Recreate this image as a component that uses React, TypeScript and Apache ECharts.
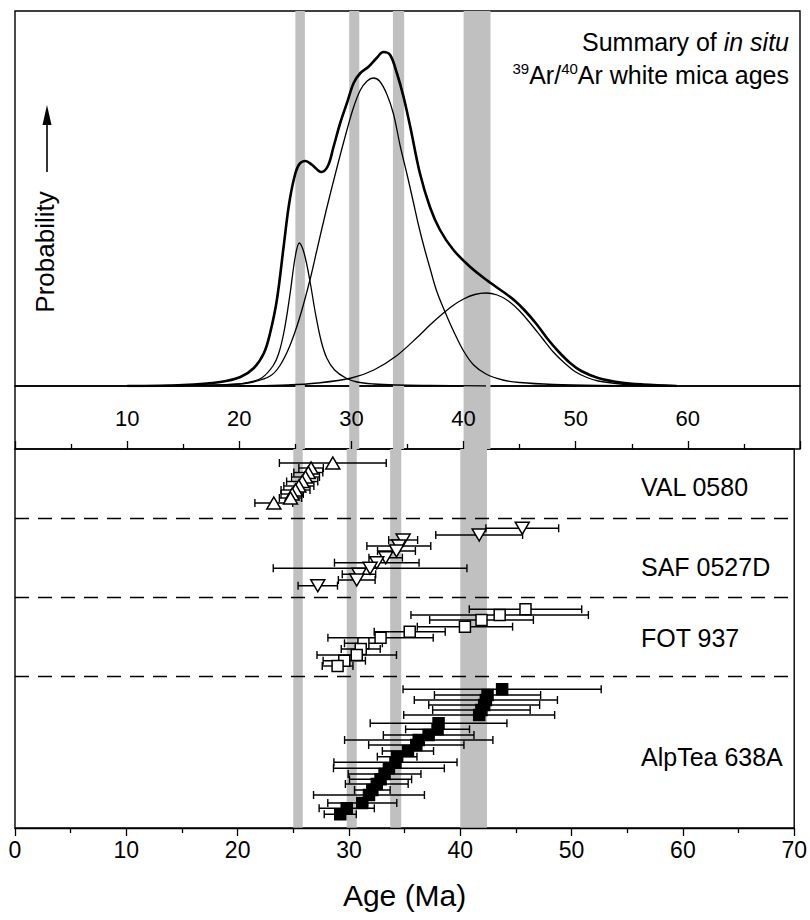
import React, { useEffect, useRef } from "react";
import * as echarts from "echarts";

// ---------- data ----------
const ageMin = 0;
const ageMax = 70;
const tickInterval = 10;

// grey age bands (Ma)
const bandStarts = [25.0, 29.8, 33.7, 40.0];
const bandEnds = [25.85, 30.7, 34.7, 42.4];

// probability curves (relative units)
const sumAges = [10, 15, 18.3, 20.1, 21.3, 22.2, 22.75, 23.35, 23.95, 24.4, 24.85, 25.3, 25.9, 26.5, 27.3, 27.9, 28.4, 29.0, 29.6, 30.2, 30.8, 31.5, 32.25, 32.85, 33.45, 34.05, 34.65, 35.25, 36.1, 37.0, 37.9, 39.1, 40.6, 42.05, 43.55, 44.5, 45.5, 46.5, 47.5, 48.5, 49.5, 50.5, 52, 54, 56, 59];
const sumProb = [0, 1, 4, 9, 18, 33, 53, 86, 139, 179, 206, 221, 225, 221, 214, 220, 239, 263, 283, 303, 313, 319, 328, 334, 331, 313, 289, 259, 213, 179, 156, 136, 119, 106, 94, 86, 75, 62, 47, 34, 23, 15, 8, 3.5, 1.5, 0];

const comp1Ages = [10, 15, 18.3, 20, 21, 22, 23, 23.5, 24, 24.5, 25, 25.35, 25.8, 26.3, 26.8, 27.3, 27.8, 28.5, 29.5, 30.5, 32, 34, 37, 42];
const comp1Prob = [0, 0.5, 1, 2, 4, 8, 20, 32, 55, 90, 130, 143, 132, 105, 72, 45, 28, 16, 8, 4, 2, 1, 0.5, 0];

const comp2Ages = [10, 15, 18.3, 20, 21.25, 22.75, 23.6, 24.5, 25.4, 26.3, 26.9, 27.8, 28.7, 29.6, 30.2, 30.8, 31.4, 31.95, 32.5, 33.15, 33.75, 34.35, 34.95, 35.5, 36.0, 36.5, 37.0, 37.6, 38.35, 39.1, 40.0, 40.9, 42.0, 43.5, 45, 48, 52, 58];
const comp2Prob = [0, 0.5, 1, 2, 4, 10, 20, 40, 69, 106, 135, 178, 218, 256, 279, 296, 305, 308, 305, 292, 272, 240, 212, 185, 160, 138, 118, 95, 74, 55, 35, 21, 12, 6, 3.5, 1.5, 0.5, 0];

const comp3Ages = [20, 24.3, 27, 30, 32, 34, 36, 37, 38, 39, 40, 41, 42, 43, 44, 45, 46, 47, 48, 49, 50, 51, 52, 54, 56, 59];
const comp3Prob = [0, 1, 3, 8, 16, 30, 50, 61, 71, 80, 87, 91.5, 93, 91, 85, 75, 62, 48, 34, 23, 14, 8.5, 5, 2, 0.7, 0];

// individual ages: age (Ma), 2-sigma error (Ma), plotting row (sample order, bottom = 0)
const valAges = [28.55, 26.6, 26.35, 26.1, 25.8, 25.5, 25.2, 24.9, 24.75, 23.25];
const valErr = [4.8, 1.1, 1.3, 1.25, 1.4, 1.35, 1.3, 1.0, 1.0, 1.7];
const valRow = [365, 360, 355.5, 351, 346.5, 342, 338, 334, 330, 325];

const safAges = [45.57, 41.7, 34.87, 34.48, 34.27, 33.3, 32.5, 31.9, 30.9, 30.7, 27.2];
const safErr = [3.27, 3.9, 1.3, 2.87, 1.7, 1.5, 3.8, 8.7, 1.5, 1.65, 1.77];
const safRow = [299.7, 293, 288, 282, 277, 270.3, 265.3, 259.7, 253.7, 248, 242.3];

const fotAges = [45.86, 43.54, 41.91, 40.42, 35.46, 32.84, 31.3, 31.06, 30.7, 29.58, 28.98];
const fotErr = [5.05, 7.97, 4.66, 4.28, 3.19, 4.73, 1.7, 1.75, 3.57, 1.9, 1.38];
const fotRow = [218.7, 213, 208, 201.3, 196.3, 190.3, 184.7, 179, 173, 167.3, 162];

const alpAges = [43.76, 42.45, 42.3, 42.15, 41.9, 41.7, 38.05, 37.96, 37.16, 36.27, 36.05, 35.3, 34.33, 34.18, 33.59, 33.2, 32.84, 32.5, 32.1, 31.8, 31.2, 29.8, 29.22];
const alpErr = [8.9, 4.77, 6.43, 4.98, 4.38, 6.78, 6.14, 2.87, 4.07, 6.66, 4.28, 2.3, 1.78, 5.53, 4.98, 3.27, 2.79, 2.82, 1.6, 4.98, 3.1, 2.48, 1.44];
const alpRow = [138.7, 133, 128, 123, 118, 113, 104.7, 98.7, 93, 88, 83, 77, 71.3, 65.7, 59.7, 54, 48.7, 44, 38, 33, 25, 19.7, 13.7];

// sample separators (row units)
const separators = [310, 231, 152];

const sampleNames = ["VAL 0580", "SAF 0527D", "FOT 937", "AlpTea 638A"];

// ---------- helpers ----------
const zip = (xs: number[], ys: number[]) => xs.map((x, i) => [x, ys[i]]);
const errData = (ages: number[], errs: number[], rows: number[]) =>
  ages.map((a, i) => [a - errs[i], a + errs[i], rows[i]]);

const FONT = "'Liberation Sans Narrow', 'Arial Narrow', 'Liberation Sans', Arial, sans-serif";
const FONT_R = "'Liberation Sans', Arial, Helvetica, sans-serif";

export default function App() {
  const ref = useRef<HTMLDivElement>(null);

  useEffect(() => {
    const chart = echarts.init(ref.current!, null, { renderer: "svg" });

    const L = 15;
    const W = 785;
    const bandArea = {
      silent: true,
      itemStyle: { color: "#c0c0c0" },
      data: bandStarts.map((s, i) => [{ xAxis: s }, { xAxis: bandEnds[i] }]),
    };

    const errorSeries = (name: string, ages: number[], errs: number[], rows: number[]) => ({
      type: "custom",
      name,
      xAxisIndex: 2,
      yAxisIndex: 2,
      z: 3,
      data: errData(ages, errs, rows),
      encode: { x: [0, 1], y: 2 },
      renderItem: (_p: any, api: any) => {
        const lo = api.coord([api.value(0), api.value(2)]);
        const hi = api.coord([api.value(1), api.value(2)]);
        const c = 4;
        const st = { stroke: "#000", lineWidth: 1.4 };
        return {
          type: "group",
          children: [
            { type: "line", shape: { x1: lo[0], y1: lo[1], x2: hi[0], y2: hi[1] }, style: st },
            { type: "line", shape: { x1: lo[0], y1: lo[1] - c, x2: lo[0], y2: lo[1] + c }, style: st },
            { type: "line", shape: { x1: hi[0], y1: hi[1] - c, x2: hi[0], y2: hi[1] + c }, style: st },
          ],
        };
      },
    });

    const pointSeries = (name: string, ages: number[], rows: number[], symbol: string, rot: number, fill: string, size: any) => ({
      type: "scatter",
      name,
      xAxisIndex: 2,
      yAxisIndex: 2,
      z: 4,
      symbol,
      symbolRotate: rot,
      symbolSize: size,
      itemStyle: { color: fill, borderColor: "#000", borderWidth: 1.5, opacity: 1 },
      data: zip(ages, rows),
    });

    const curve = (name: string, ages: number[], prob: number[], width: number) => ({
      type: "line",
      name,
      xAxisIndex: 0,
      yAxisIndex: 0,
      z: 3,
      smooth: 0.35,
      showSymbol: false,
      symbol: "none",
      lineStyle: { color: "#000", width },
      data: zip(ages, prob),
    });

    const option: any = {
      animation: false,
      backgroundColor: "#fff",
      grid: [
        { left: L, width: W, top: 11, height: 375, show: true, borderColor: "#000", borderWidth: 1.4, backgroundColor: "transparent" },
        { left: L, width: W, top: 386, height: 63, show: true, borderColor: "#000", borderWidth: 1.4, backgroundColor: "transparent" },
        { left: L, width: W, top: 449, height: 379, show: true, borderColor: "#000", borderWidth: 1.4, backgroundColor: "transparent" },
      ],
      xAxis: [
        { type: "value", gridIndex: 0, min: ageMin, max: ageMax, show: false },
        {
          type: "value", gridIndex: 1, min: ageMin, max: ageMax, interval: tickInterval, z: 10,
          axisLine: { show: false },
          splitLine: { show: false },
          axisTick: { show: true, inside: true, length: 8, lineStyle: { color: "#000", width: 1.3 } },
          minorTick: { show: true, splitNumber: 2, length: 5, lineStyle: { color: "#000", width: 1.3 } },
          axisLabel: {
            inside: true, margin: 20, color: "#000", fontSize: 22, fontFamily: FONT,
            formatter: (v: number) => (v === ageMin || v === ageMax ? "" : String(v)),
          },
        },
        {
          type: "value", gridIndex: 2, min: ageMin, max: ageMax, interval: tickInterval, z: 10,
          axisLine: { show: true, lineStyle: { color: "#000", width: 1.4 } },
          splitLine: { show: false },
          axisTick: { show: true, inside: false, length: 8, lineStyle: { color: "#000", width: 1.3 } },
          minorTick: { show: true, splitNumber: 2, length: 5, lineStyle: { color: "#000", width: 1.3 } },
          axisLabel: { margin: 10, color: "#000", fontSize: 23, fontFamily: FONT, showMinLabel: true, showMaxLabel: true },
          name: "Age (Ma)",
          nameLocation: "middle",
          nameGap: 52,
          nameTextStyle: { color: "#000", fontSize: 30, fontFamily: FONT },
        },
      ],
      yAxis: [
        { type: "value", gridIndex: 0, min: 0, max: 375, show: false },
        { type: "value", gridIndex: 1, min: 0, max: 1, show: false },
        { type: "value", gridIndex: 2, min: 0, max: 379, show: false },
      ],
      series: [
        { type: "line", xAxisIndex: 0, yAxisIndex: 0, data: [], z: 1, markArea: bandArea },
        { type: "line", xAxisIndex: 1, yAxisIndex: 1, data: [], z: 1, markArea: bandArea },
        {
          type: "line", xAxisIndex: 2, yAxisIndex: 2, data: [], z: 1, markArea: bandArea,
          markLine: {
            silent: true, symbol: ["none", "none"], label: { show: false },
            lineStyle: { color: "#000", width: 1.3, type: [14, 9] },
            data: separators.map((v) => ({ yAxis: v })),
          },
        },
        curve("sum", sumAges, sumProb, 2.6),
        curve("c1", comp1Ages, comp1Prob, 1.3),
        curve("c2", comp2Ages, comp2Prob, 1.3),
        curve("c3", comp3Ages, comp3Prob, 1.3),
        errorSeries("VAL err", valAges, valErr, valRow),
        errorSeries("SAF err", safAges, safErr, safRow),
        errorSeries("FOT err", fotAges, fotErr, fotRow),
        errorSeries("ALP err", alpAges, alpErr, alpRow),
        pointSeries(sampleNames[0], valAges, valRow, "triangle", 0, "#fff", [14, 12]),
        pointSeries(sampleNames[1], safAges, safRow, "triangle", 180, "#fff", [14, 12]),
        pointSeries(sampleNames[2], fotAges, fotRow, "rect", 0, "#fff", [11, 11]),
        pointSeries(sampleNames[3], alpAges, alpRow, "rect", 0, "#000", [11, 11]),
      ],
      graphic: [
        {
          type: "text", x: 789, y: 42,
          style: {
            text: "{n|Summary of }{i|in situ}",
            align: "right", verticalAlign: "middle",
            rich: {
              n: { fontSize: 25, fontFamily: FONT_R, fill: "#000" },
              i: { fontSize: 25, fontFamily: FONT_R, fontStyle: "italic", fill: "#000" },
            },
          },
        },
        {
          type: "text", x: 789, y: 75,
          style: {
            text: "{s|39}{n|Ar/}{s|40}{n|Ar white mica ages}",
            align: "right", verticalAlign: "middle",
            rich: {
              n: { fontSize: 25, fontFamily: FONT_R, fill: "#000", lineHeight: 28 },
              s: { fontSize: 15, fontFamily: FONT_R, fill: "#000", lineHeight: 18, verticalAlign: "top" },
            },
          },
        },
        {
          type: "text", x: 45, y: 252, rotation: Math.PI / 2,
          style: { text: "Probability", align: "center", verticalAlign: "middle", fontSize: 26, fontFamily: FONT_R, fill: "#000" },
        },
        { type: "line", shape: { x1: 47, y1: 172, x2: 47, y2: 120 }, style: { stroke: "#000", lineWidth: 1.6 } },
        { type: "polygon", shape: { points: [[47, 105], [42.5, 125], [51.5, 125]] }, style: { fill: "#000" } },
        { type: "text", x: 641, y: 487, style: { text: sampleNames[0], verticalAlign: "middle", fontSize: 25, fontFamily: FONT_R, fill: "#000" } },
        { type: "text", x: 641, y: 567, style: { text: sampleNames[1], verticalAlign: "middle", fontSize: 25, fontFamily: FONT_R, fill: "#000" } },
        { type: "text", x: 641, y: 638, style: { text: sampleNames[2], verticalAlign: "middle", fontSize: 25, fontFamily: FONT_R, fill: "#000" } },
        { type: "text", x: 641, y: 757, style: { text: sampleNames[3], verticalAlign: "middle", fontSize: 25, fontFamily: FONT_R, fill: "#000" } },
      ],
    };

    chart.setOption(option);
    return () => chart.dispose();
  }, []);

  return <div ref={ref} style={{ position: "absolute", left: 0, top: 0, width: 810, height: 920 }} />;
}
